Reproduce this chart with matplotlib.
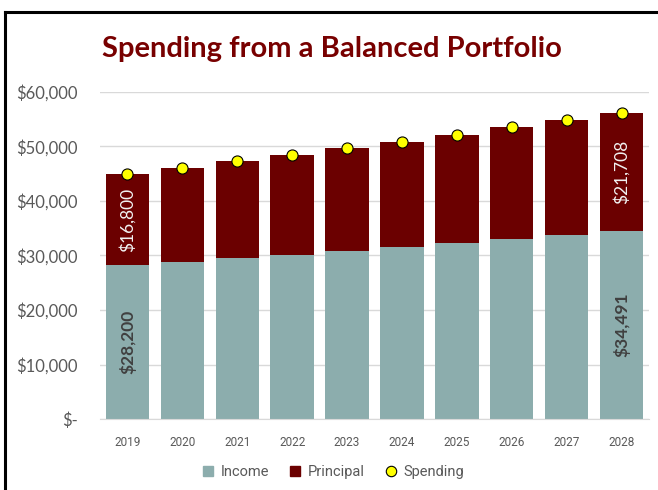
import matplotlib
matplotlib.use("Agg")
import matplotlib.pyplot as plt
from matplotlib.lines import Line2D
from matplotlib.ticker import FuncFormatter
import numpy as np

# Yearly spending split into portfolio income and principal drawn
years = ['2019', '2020', '2021', '2022', '2023', '2024', '2025', '2026', '2027', '2028']
income = [28200, 28840, 29490, 30160, 30840, 31540, 32250, 32980, 33730, 34491]
principal = [16800, 17285, 17788, 18300, 18832, 19373, 19936, 20511, 21098, 21708]
spending = [45000, 46125, 47278, 48460, 49672, 50913, 52186, 53491, 54828, 56199]

INCOME_C = '#8CADAD'
PRINCIPAL_C = '#6B0000'
TITLE_C = '#780000'
TEXT_C = '#595959'

fig = plt.figure(figsize=(6.58, 4.90), dpi=100)
ax = fig.add_axes([100 / 658, 1 - 419 / 490, 549 / 658, 327 / 490])

x = np.arange(len(years))
ax.bar(x, income, width=0.79, color=INCOME_C, zorder=2)
ax.bar(x, principal, width=0.79, bottom=income, color=PRINCIPAL_C, zorder=2)
ax.plot(x, spending, linestyle='none', marker='o', markersize=8,
        markerfacecolor='#FFFF00', markeredgecolor='black', markeredgewidth=0.8,
        zorder=3, clip_on=False)

# value labels on the first and last years only
for i in (0, len(years) - 1):
    ax.text(x[i], income[i] / 2, f'${income[i]:,}', rotation=90,
            ha='center', va='center', color='#404040', fontsize=12.5,
            fontweight='bold', family='Lato', zorder=4)
    ax.text(x[i], income[i] + principal[i] / 2, f'${principal[i]:,}', rotation=90,
            ha='center', va='center', color='#F2F2F2', fontsize=12.5,
            family='Lato', zorder=4)

ax.set_xlim(-0.5, len(years) - 0.5)
ax.set_ylim(0, 60000)
ax.set_yticks(np.arange(0, 60001, 10000))
ax.yaxis.set_major_formatter(FuncFormatter(lambda v, p: '$-' if v == 0 else f'${v:,.0f}'))
ax.set_xticks(x)
ax.set_xticklabels(years)

ax.grid(axis='y', color='#D9D9D9', linewidth=1, zorder=0)
ax.set_axisbelow(True)
for s in ['top', 'right', 'left']:
    ax.spines[s].set_visible(False)
ax.spines['bottom'].set_color('#D9D9D9')
ax.tick_params(axis='both', length=0, colors=TEXT_C)
ax.tick_params(axis='y', pad=16, labelsize=12)
ax.tick_params(axis='x', pad=12, labelsize=8.5)
for lab in ax.get_yticklabels():
    lab.set_family('Lato')
for lab in ax.get_xticklabels():
    lab.set_family('Roboto')

fig.text(332 / 658, 1 - 57.5 / 490, 'Spending from a Balanced Portfolio',
         ha='center', va='baseline', color=TITLE_C, fontsize=21,
         fontweight='bold', family='Lato')

handles = [
    Line2D([], [], linestyle='none', marker='s', markersize=6.5, markerfacecolor=INCOME_C, markeredgecolor=INCOME_C),
    Line2D([], [], linestyle='none', marker='s', markersize=6.5, markerfacecolor=PRINCIPAL_C, markeredgecolor=PRINCIPAL_C),
    Line2D([], [], linestyle='none', marker='o', markersize=7.5, markerfacecolor='#FFFF00',
           markeredgecolor='black', markeredgewidth=0.8),
]
fig.legend(handles, ['Income', 'Principal', 'Spending'], loc='center',
           bbox_to_anchor=(334 / 658, 1 - 472 / 490), ncol=3, frameon=False,
           handlelength=0.6, handletextpad=0.6, columnspacing=1.45,
           prop={'family': 'Roboto', 'size': 10.5}, labelcolor=TEXT_C)

# outer frame lines along the left and top edges
fig.add_artist(Line2D([5 / 658, 5 / 658], [0, 1 - 12 / 490], transform=fig.transFigure,
                      color='black', linewidth=2.2, solid_capstyle='projecting'))
fig.add_artist(Line2D([5 / 658, 1], [1 - 12 / 490, 1 - 12 / 490], transform=fig.transFigure,
                      color='black', linewidth=2.2, solid_capstyle='projecting'))

fig.savefig('out.png', dpi=100)
